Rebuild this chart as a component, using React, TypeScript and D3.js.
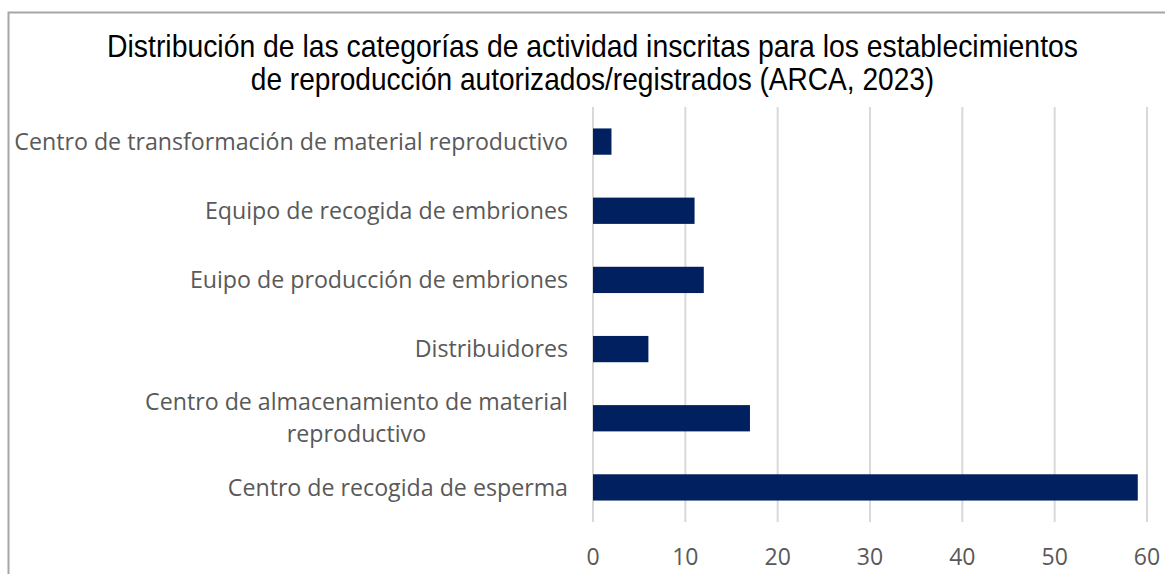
import React from "react";
import * as d3 from "d3";

const categories = [
  ["Centro de transformación de material reproductivo"],
  ["Equipo de recogida de embriones"],
  ["Euipo de producción de embriones"],
  ["Distribuidores"],
  ["Centro de almacenamiento de material", "reproductivo"],
  ["Centro de recogida de esperma"],
];
const values = [2, 11, 12, 6, 17, 59];
const xTicks = [0, 10, 20, 30, 40, 50, 60];
const titleLines = [
  "Distribución de las categorías de actividad inscritas para los establecimientos",
  "de reproducción autorizados/registrados (ARCA, 2023)",
];
const titleScales = [0.915, 0.906];

const W = 1165;
const H = 574;

export default function App() {
  const x = d3.scaleLinear().domain([0, 60]).range([593, 1147]);
  const y = d3
    .scaleBand<number>()
    .domain(d3.range(categories.length))
    .range([107, 522])
    .paddingInner(0.62)
    .paddingOuter(0.31);
  const labelFont = "'Open Sans', 'DejaVu Sans', sans-serif";
  return (
    <svg
      width={W}
      height={H}
      style={{ position: "absolute", left: 0, top: 0, background: "#fff" }}
    >
      <rect x={8.5} y={12.5} width={W + 10} height={H + 10} fill="#fff" stroke="#a6a6a6" strokeWidth={2} />
      <g fontFamily="'Liberation Sans', sans-serif" fontSize={31} fill="#000" textAnchor="middle">
        {titleLines.map((t, i) => (
          <text
            key={i}
            x={0}
            y={0}
            transform={`translate(592.5,${57 + i * 33}) scale(${titleScales[i]},1)`}
          >
            {t}
          </text>
        ))}
      </g>
      {xTicks.map((t) => (
        <line key={t} x1={x(t)} x2={x(t)} y1={107} y2={522} stroke="#d9d9d9" strokeWidth={2} />
      ))}
      {values.map((v, i) => (
        <rect
          key={i}
          x={x(0)}
          y={y(i)!}
          width={x(v) - x(0)}
          height={y.bandwidth()}
          fill="#002060"
        />
      ))}
      <g fontFamily={labelFont} fontSize={23.2} fill="#595959">
        {categories.map((lines, i) => {
          const cy = y(i)! + y.bandwidth() / 2;
          if (lines.length === 1) {
            return (
              <text key={i} x={568} y={cy} dy="0.35em" textAnchor="end">
                {lines[0]}
              </text>
            );
          }
          return (
            <g key={i}>
              <text x={356.5} y={cy - 16} dy="0.35em" textAnchor="middle">
                {lines[0]}
              </text>
              <text x={356.5} y={cy + 16} dy="0.35em" textAnchor="middle">
                {lines[1]}
              </text>
            </g>
          );
        })}
      </g>
      <g fontFamily={labelFont} fontSize={23} fill="#595959" textAnchor="middle">
        {xTicks.map((t) => (
          <text key={t} x={x(t)} y={565}>
            {t}
          </text>
        ))}
      </g>
    </svg>
  );
}
